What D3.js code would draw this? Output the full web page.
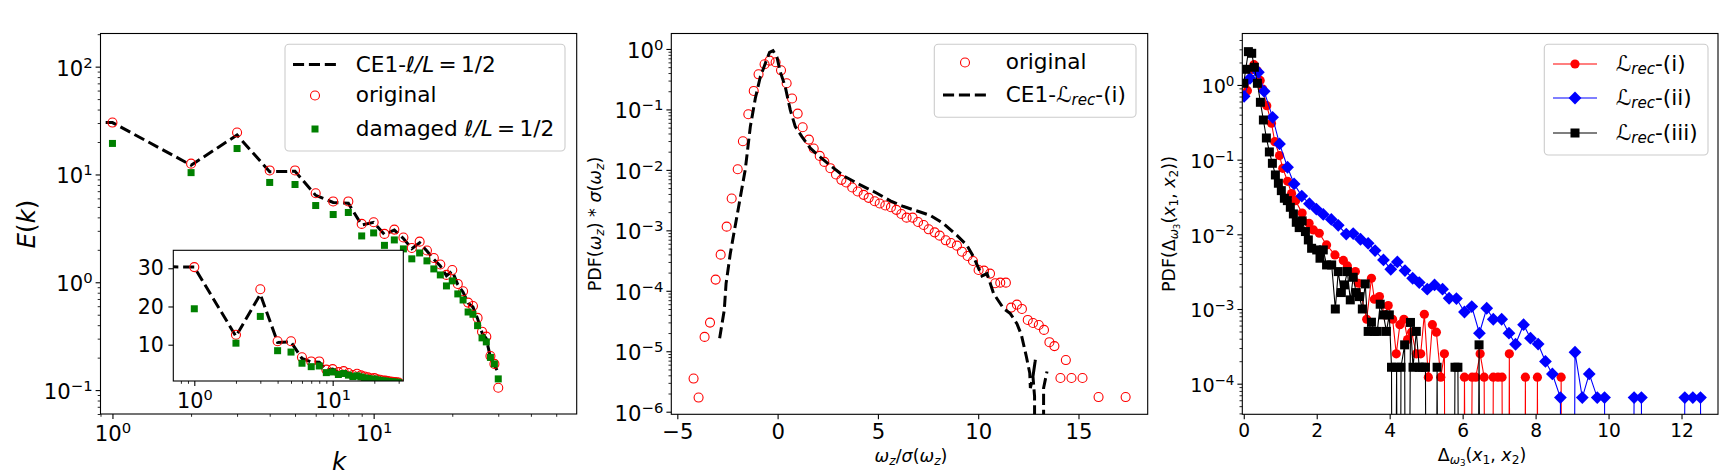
<!DOCTYPE html>
<html><head><meta charset="utf-8">
<script src="https://cdn.jsdelivr.net/npm/d3@7"></script>
<style>
html,body{margin:0;padding:0;background:#fff}
svg{display:block}
text{font-family:"DejaVu Sans",sans-serif;fill:#000}
</style></head><body>
<svg id="c" width="1736" height="476"></svg>
<script>
// ---------- Panel 1: energy spectrum ----------
const spectrumK = [1,2,3,4,5,6,7,8,9,10,11,12,13,14,15,16,17,18,19,20,21,22,23,24,25,26,27,28,29,30];
const spectrumOriginal = [30.3,12.6,24.5,10.9,10.9,6.7,5.62,5.62,3.48,3.6,2.81,3.08,2.6,2.08,2.38,1.97,1.68,1.46,1.17,1.3,0.965,0.826,0.648,0.603,0.467,0.348,0.313,0.207,0.175,0.105];
const spectrumDamaged = [19.4,10.4,17.4,8.43,8.07,5.15,4.25,4.44,2.69,2.87,2.2,2.47,2.04,1.65,1.87,1.58,1.33,1.17,0.925,1.03,0.78,0.685,0.53,0.505,0.396,0.305,0.28,0.201,0.175,0.127];
const ceK = [0.1,1,2,3,4,5,6,7,8,9,10,11,12,13,14,15,16,17,18,19,20,21,22,23,24,25,26,27,28,29,30];
const ceSpectrum = [30.8,30.3,12.2,23.2,10.6,10.7,6.4,5.5,5.4,3.4,3.6,2.78,3.05,2.55,2.05,2.32,1.95,1.63,1.42,1.15,1.27,0.95,0.81,0.64,0.59,0.46,0.34,0.3,0.2,0.17,0.145];
// ---------- Panel 2: PDF of vorticity (value pairs x, log10 PDF) ----------
const pdfOriginalX = [-4.19,-3.94,-3.64,-3.37,-3.09,-2.84,-2.54,-2.29,-1.99,-1.73,-1.46,-1.19,-0.95,-0.65,-0.40,-0.10,0.17,0.45,0.72,1.0,1.25,1.56,1.80,2.10,2.33,2.63,2.91,3.18,3.42,3.72,3.99,4.29,4.54,4.84,5.09,5.37,5.65,5.92,6.17,6.43,6.73,7.0,7.28,7.53,7.83,8.08,8.38,8.64,8.94,9.19,9.47,9.74,10.02,10.29,10.59,10.85,11.1,11.38,11.64,11.93,12.18,12.47,12.73,13.02,13.28,13.55,13.8,14.1,14.37,14.65,15.2,16.0,17.35];
const pdfOriginalLog = [-5.452,-5.766,-4.763,-4.526,-3.815,-3.402,-2.939,-2.474,-1.989,-1.526,-1.08,-0.694,-0.419,-0.253,-0.193,-0.22,-0.353,-0.567,-0.82,-1.069,-1.295,-1.499,-1.647,-1.769,-1.868,-1.972,-2.077,-2.165,-2.209,-2.292,-2.358,-2.413,-2.463,-2.518,-2.556,-2.59,-2.617,-2.661,-2.73,-2.79,-2.79,-2.862,-2.912,-2.983,-3.033,-3.088,-3.165,-3.209,-3.253,-3.353,-3.424,-3.507,-3.656,-3.667,-3.716,-3.876,-3.865,-3.865,-4.278,-4.229,-4.3,-4.482,-4.532,-4.565,-4.647,-4.85,-4.915,-5.443,-5.146,-5.443,-5.443,-5.758,-5.758];
const pdfCeX = [-2.89,-2.66,-2.57,-2.36,-2.03,-1.61,-1.36,-1.11,-0.86,-0.61,-0.40,-0.23,-0.03,0.13,0.38,0.63,0.88,1.21,1.63,2.13,2.63,3.29,4.12,4.95,5.62,6.28,7.11,7.61,8.28,8.94,9.44,9.77,10.19,10.44,10.77,11.27,11.6,11.93,12.15,12.4,12.57,12.6,12.73,12.85,12.73,12.81,12.83,13.23,13.26,13.43];
const pdfCeLog = [-4.785,-4.322,-3.882,-3.386,-2.771,-1.989,-1.284,-0.815,-0.457,-0.237,-0.055,-0.028,-0.138,-0.375,-0.623,-1.008,-1.284,-1.449,-1.642,-1.79,-1.928,-2.099,-2.248,-2.386,-2.512,-2.606,-2.697,-2.752,-2.89,-3.083,-3.248,-3.441,-3.755,-3.716,-4.047,-4.295,-4.377,-4.543,-4.727,-5.086,-5.361,-5.609,-5.416,-5.141,-5.416,-5.748,-300,-300,-5.609,-5.334];
// ---------- Panel 3: PDF of increments (x, log10 PDF; -300 = empty bin) ----------
const recIX = [0.02,0.1,0.19,0.28,0.37,0.45,0.52,0.63,0.76,0.85,0.98,1.07,1.2,1.31,1.42,1.6,1.79,1.91,2.07,2.27,2.5,2.73,2.84,3.06,3.14,3.37,3.5,3.58,3.72,3.86,3.96,4.08,4.18,4.28,4.39,4.49,4.6,4.73,4.85,4.95,5.06,5.17,5.28,5.4,5.5,5.55,6.0,6.05,6.15,6.26,6.36,6.48,6.59,6.65,6.79,6.84,6.97,7.08,7.14,7.23,7.28,7.33,7.67,7.72,7.77,8.0,8.05,8.1,8.65,8.7,8.75];
const recILog = [-0.14,-0.076,0.2,0.272,0.19,0.06,-0.054,-0.277,-0.513,-0.759,-0.946,-1.116,-1.29,-1.455,-1.55,-1.716,-1.852,-1.941,-1.986,-2.142,-2.276,-2.35,-2.423,-2.499,-2.655,-3.137,-2.588,-2.869,-2.834,-3.079,-2.954,-3.137,-3.6,-3.21,-3.137,-3.41,-3.31,-3.6,-3.6,-3.07,-3.913,-3.21,-3.31,-3.913,-3.6,-300,-300,-3.913,-300,-3.913,-3.913,-3.6,-3.913,-300,-300,-3.913,-3.913,-3.913,-300,-300,-3.6,-300,-300,-3.913,-300,-300,-3.913,-300,-300,-3.913,-300];
const recIIX = [0.01,0.17,0.4,0.56,0.79,0.98,1.2,1.38,1.59,1.8,1.99,2.18,2.4,2.59,2.81,3.0,3.2,3.41,3.6,3.83,4.03,4.21,4.42,4.63,4.81,5.03,5.23,5.45,5.63,5.83,6.05,6.25,6.46,6.66,6.84,7.07,7.27,7.45,7.67,7.86,8.07,8.27,8.46,8.68,8.75,9.0,9.08,9.28,9.47,9.69,9.89,9.95,10.6,10.7,10.9,10.97,12.0,12.09,12.31,12.52,12.6];
const recIILog = [-0.152,0.089,0.17,-0.085,-0.433,-0.79,-1.102,-1.325,-1.488,-1.59,-1.662,-1.734,-1.8,-1.88,-1.997,-1.99,-2.066,-2.12,-2.218,-2.343,-2.468,-2.369,-2.486,-2.588,-2.646,-2.735,-2.677,-2.735,-2.856,-2.86,-3.04,-2.968,-3.324,-2.99,-3.137,-3.137,-3.324,-3.472,-3.21,-3.391,-3.47,-3.702,-3.87,-4.186,-300,-300,-3.579,-4.186,-3.869,-4.186,-4.186,-300,-300,-4.186,-4.186,-300,-300,-4.186,-4.186,-4.186,-300];
const recIIIX = [0.0,0.054,0.127,0.218,0.291,0.374,0.456,0.538,0.62,0.702,0.785,0.867,0.949,1.03,1.113,1.195,1.277,1.36,1.44,1.52,1.6,1.69,1.77,1.86,2.0,2.09,2.18,2.27,2.41,2.51,2.59,2.675,2.76,2.84,2.92,3.0,3.08,3.17,3.25,3.33,3.41,3.5,3.58,3.66,3.74,3.83,3.91,3.99,4.05,4.10,4.19,4.26,4.31,4.41,4.47,4.57,4.64,4.73,4.81,4.89,4.98,5.05,5.22,5.30,5.38,5.71,5.79,5.87,5.95,6.36,6.45,6.53];
const recIIILog = [0.022,0.21,0.446,0.424,0.237,0.022,-0.232,-0.469,-0.71,-0.897,-1.049,-1.205,-1.316,-1.415,-1.517,-1.549,-1.638,-1.727,-1.839,-1.91,-1.82,-1.963,-2.075,-2.187,-2.209,-2.32,-2.209,-2.41,-2.41,-3.0,-2.499,-2.78,-2.677,-2.499,-2.878,-2.575,-2.78,-2.834,-3.0,-2.664,-3.3,-3.177,-3.3,-3.3,-2.936,-3.079,-3.3,-3.079,-3.78,-300,-3.78,-300,-3.78,-3.48,-300,-3.18,-3.78,-3.3,-3.78,-3.78,-3.78,-300,-300,-3.78,-300,-300,-3.78,-3.78,-300,-300,-3.48,-300];
// ---------- Tick labels ----------
const p1XTicks=[1,10], p1YTicks=[100,10,1,0.1], insetYTicks=[10,20,30];
const p2XTicks=[-5,0,5,10,15], p2YTicks=[1,1e-1,1e-2,1e-3,1e-4,1e-5,1e-6];
const p3XTicks=[0,2,4,6,8,10,12], p3YTicks=[1,1e-1,1e-2,1e-3,1e-4];

const svg=d3.select('#c');
const defs=svg.append('defs');
let clipN=0;
const FS=21.6, TICK=21.2, MARK='#ff0000';

function minorLog(lo,hi){const o=[];for(let e=Math.floor(Math.log10(lo));e<=Math.ceil(Math.log10(hi));e++)for(let m=2;m<=9;m++){const v=m*Math.pow(10,e);if(v>=lo&&v<=hi)o.push(v);}return o;}
function rich(t,parts){
  let cur=0;
  const st={n:[0,1,'normal'],i:[0,1,'italic'],s:[0.16,0.7,'normal'],si:[0.16,0.7,'italic'],ss:[0.3,0.5,'normal'],u:[-0.38,0.7,'normal']};
  const base=parseFloat(t.attr('font-size'));
  parts.forEach(([txt,k])=>{const [off,sc,sty]=st[k||'n'];
    const dy=(off-cur)*base;cur=off;
    t.append('tspan').attr('dy',dy).attr('font-size',base*sc).attr('font-style',sty).text(txt);});
}
function powLabel(sel,fs){sel.each(function(d){const t=d3.select(this);const e=Math.round(Math.log10(d));t.text(null).attr('font-size',fs);
  rich(t,[['10','n'],[(e<0?'\u2212':'')+Math.abs(e),'u']]);});}

function frame(g,b,x,y,o){
  const fx=o.fsx||o.fs;
  const ax=d3.axisBottom(x).tickValues(o.xt).tickSize(4.9).tickPadding(5).tickFormat(o.xlog?(d=>d):(d=>String(d).replace('-','\u2212')));
  const ay=d3.axisLeft(y).tickValues(o.yt).tickSize(4.9).tickPadding(o.ylog?3:4.5).tickFormat(d=>d);
  const gx=g.append('g').attr('transform',`translate(0,${b.b})`).call(ax);
  const gy=g.append('g').attr('transform',`translate(${b.l},0)`).call(ay);
  [gx,gy].forEach(a=>{a.attr('font-family',null).attr('font-size',null);a.select('.domain').remove();a.selectAll('line').attr('stroke','#000').attr('stroke-width',1.1);});
  gx.selectAll('text').attr('font-size',fx).attr('fill','#000');
  gy.selectAll('text').attr('font-size',o.fs).attr('fill','#000');
  if(o.xlog){gx.selectAll('text').attr('dy',null).attr('y',27).call(powLabel,fx);}
  if(o.ylog){gy.selectAll('text').attr('dy',null).attr('y',o.fs*0.4).call(powLabel,o.fs);}
  if(o.xm){const m=g.append('g').attr('transform',`translate(0,${b.b})`).call(d3.axisBottom(x).tickValues(o.xm).tickSize(2.8).tickFormat(''));m.select('.domain').remove();m.selectAll('line').attr('stroke','#000').attr('stroke-width',0.85);}
  if(o.ym){const m=g.append('g').attr('transform',`translate(${b.l},0)`).call(d3.axisLeft(y).tickValues(o.ym).tickSize(2.8).tickFormat(''));m.select('.domain').remove();m.selectAll('line').attr('stroke','#000').attr('stroke-width',0.85);}
}
function box(g,b){g.append('rect').attr('x',b.l).attr('y',b.t).attr('width',b.r-b.l).attr('height',b.b-b.t).attr('fill','none').attr('stroke','#000').attr('stroke-width',1.1);}
function clip(b){const id='cp'+(clipN++);defs.append('clipPath').attr('id',id).append('rect').attr('x',b.l).attr('y',b.t).attr('width',b.r-b.l).attr('height',b.b-b.t);return `url(#${id})`;}

function circles(g,xs,ys,x,y){g.selectAll(null).data(xs.map((v,i)=>[v,ys[i]])).join('circle').attr('cx',d=>x(d[0])).attr('cy',d=>y(d[1])).attr('r',4.5).attr('fill','none').attr('stroke',MARK).attr('stroke-width',1.1);}
function squares(g,xs,ys,x,y,s,col){g.selectAll(null).data(xs.map((v,i)=>[v,ys[i]])).join('rect').attr('x',d=>x(d[0])-s/2).attr('y',d=>y(d[1])-s/2).attr('width',s).attr('height',s).attr('fill',col);}
function dashed(g,xs,ys,x,y){g.append('path').attr('d',d3.line().x(d=>x(d[0])).y(d=>y(d[1]))(xs.map((v,i)=>[v,ys[i]]))).attr('fill','none').attr('stroke','#000').attr('stroke-width',3).attr('stroke-dasharray','11.1,4.8');}
function legendBox(g,l,t,r,b){g.append('rect').attr('x',l).attr('y',t).attr('width',r-l).attr('height',b-t).attr('rx',4).attr('fill','#fff').attr('fill-opacity',0.8).attr('stroke','#ccc').attr('stroke-width',1.1);}
function legText(g,x,y,parts,fs){const t=g.append('text').attr('x',x).attr('y',y).attr('font-size',fs||FS);rich(t,parts);return t;}
const pow10=v=>Math.pow(10,v);

// ===== Panel 1 =====
{
 const b={l:100.5,r:576.7,t:33.5,b:414};
 const g=svg.append('g');
 const x=d3.scaleLog().domain([0.9,59.9]).range([b.l,b.r]);
 const y=d3.scaleLog().domain([0.06,203]).range([b.b,b.t]);
 frame(g,b,x,y,{xt:p1XTicks,yt:p1YTicks,xlog:1,ylog:1,fs:TICK,xm:minorLog(0.9,59.9),ym:minorLog(0.06,203)});
 const p=g.append('g').attr('clip-path',clip(b));
 dashed(p,ceK,ceSpectrum,x,y);
 circles(p,spectrumK,spectrumOriginal,x,y);
 squares(p,spectrumK,spectrumDamaged,x,y,7,'#008000');
 box(g,b);
 legendBox(g,285,44.3,565,151);
 g.append('line').attr('x1',293).attr('x2',337).attr('y1',64.5).attr('y2',64.5).attr('stroke','#000').attr('stroke-width',3).attr('stroke-dasharray','11.1,4.8');
 g.append('circle').attr('cx',315).attr('cy',95.5).attr('r',4.5).attr('fill','none').attr('stroke',MARK).attr('stroke-width',1.1);
 g.append('rect').attr('x',311.5).attr('y',125.5).attr('width',7).attr('height',7).attr('fill','#008000');
 legText(g,355.7,71.7,[['CE1-'],['\u2113/L','i'],['\u2009=\u20091/2']]);
 legText(g,355.7,101.7,[['original']]);
 legText(g,355.7,135.7,[['damaged '],['\u2113/L','i'],['\u2009=\u20091/2']]);
 const yl=g.append('text').attr('font-size',24.5).attr('text-anchor','middle').attr('transform','translate(35,224) rotate(-90)');rich(yl,[['E','i'],['('],['k','i'],[')']]);
 const xl=g.append('text').attr('font-size',24.5).attr('text-anchor','middle').attr('x',339).attr('y',470);rich(xl,[['k','i']]);
 // inset
 const bi={l:173.3,r:403.3,t:250.3,b:381};
 const gi=g.append('g');
 gi.append('rect').attr('x',bi.l).attr('y',bi.t).attr('width',bi.r-bi.l).attr('height',bi.b-bi.t).attr('fill','#fff');
 const xi=d3.scaleLog().domain([0.705,32.4]).range([bi.l,bi.r]);
 const yi=d3.scaleLinear().domain([0.5,34.7]).range([bi.b,bi.t]);
 frame(gi,bi,xi,yi,{xt:p1XTicks,yt:insetYTicks,xlog:1,fs:20.5,fsx:20.8,xm:minorLog(0.705,32.4)});
 const pi=gi.append('g').attr('clip-path',clip(bi));
 dashed(pi,ceK,ceSpectrum,xi,yi);
 circles(pi,spectrumK,spectrumOriginal,xi,yi);
 squares(pi,spectrumK,spectrumDamaged,xi,yi,7,'#008000');
 box(gi,bi);
}
// ===== Panel 2 =====
{
 const b={l:671.3,r:1147.7,t:33.5,b:414.3};
 const g=svg.append('g');
 const x=d3.scaleLinear().domain([-5.3,18.45]).range([b.l,b.r]);
 const y=d3.scaleLog().domain([pow10(-6.043),pow10(0.256)]).range([b.b,b.t]);
 frame(g,b,x,y,{xt:p2XTicks,yt:p2YTicks,ylog:1,fs:TICK,ym:minorLog(pow10(-6.043),pow10(0.256))});
 const p=g.append('g').attr('clip-path',clip(b));
 circles(p,pdfOriginalX,pdfOriginalLog.map(pow10),x,y);
 dashed(p,pdfCeX,pdfCeLog.map(pow10),x,y);
 box(g,b);
 legendBox(g,934.3,44.3,1136,117.3);
 g.append('circle').attr('cx',965).attr('cy',62.5).attr('r',4.5).attr('fill','none').attr('stroke',MARK).attr('stroke-width',1.1);
 g.append('line').attr('x1',943).attr('x2',987).attr('y1',95).attr('y2',95).attr('stroke','#000').attr('stroke-width',3).attr('stroke-dasharray','11.1,4.8');
 legText(g,1005.7,69,[['original']]);
 legText(g,1005.7,101.7,[['CE1-'],['\u2112','n'],['rec','si'],['-(i)','n']]);
 const yl=g.append('text').attr('font-size',17.5).attr('text-anchor','middle').attr('transform','translate(601,224) rotate(-90)');
 rich(yl,[['PDF('],['\u03c9','i'],['z','si'],[') * '],['\u03c3','i'],['('],['\u03c9','i'],['z','si'],[')']]);
 const xl=g.append('text').attr('font-size',17.5).attr('text-anchor','middle').attr('x',911).attr('y',462);
 rich(xl,[['\u03c9','i'],['z','si'],['/'],['\u03c3','i'],['('],['\u03c9','i'],['z','si'],[')']]);
}
// ===== Panel 3 =====
{
 const b={l:1242.3,r:1718,t:33.5,b:414.3};
 const g=svg.append('g');
 const x=d3.scaleLinear().domain([-0.04,13]).range([b.l,b.r]);
 const y=d3.scaleLog().domain([pow10(-4.41),pow10(0.689)]).range([b.b,b.t]);
 frame(g,b,x,y,{xt:p3XTicks,yt:p3YTicks,ylog:1,fs:19.2,fsx:18.6,ym:minorLog(pow10(-4.41),pow10(0.689))});
 const p=g.append('g').attr('clip-path',clip(b));
 const L=d3.line().x(d=>x(d[0])).y(d=>y(d[1]));
 const series=[[recIX,recILog,'#ff0000','c'],[recIIX,recIILog,'#0000ff','d'],[recIIIX,recIIILog,'#000000','s']];
 function marker(sel,kind,col){
  if(kind==='c')sel.append('circle').attr('r',4.6).attr('fill',col);
  if(kind==='s')sel.append('rect').attr('x',-4.5).attr('y',-4.5).attr('width',9).attr('height',9).attr('fill',col);
  if(kind==='d')sel.append('path').attr('d','M0,-6.4L6.4,0L0,6.4L-6.4,0Z').attr('fill',col);
 }
 series.forEach(([xs,ls,col,kind])=>{
  const pts=xs.map((v,i)=>[v,pow10(ls[i])]);
  p.append('path').attr('d',L(pts.map(d=>[d[0],Math.max(d[1],1e-12)]))).attr('fill','none').attr('stroke',col).attr('stroke-width',1.1);
  pts.filter(d=>d[1]>1e-12).forEach(d=>{marker(p.append('g').attr('transform',`translate(${x(d[0])},${y(d[1])})`),kind,col);});
 });
 box(g,b);
 legendBox(g,1544.3,44.3,1708,155);
 [[series[0],64],[series[1],98],[series[2],133]].forEach(([s,yy])=>{
  g.append('line').attr('x1',1553).attr('x2',1597).attr('y1',yy).attr('y2',yy).attr('stroke',s[2]).attr('stroke-width',1.1);
  marker(g.append('g').attr('transform',`translate(1575,${yy})`),s[3],s[2]);
 });
 legText(g,1615.7,71,[['\u2112','n'],['rec','si'],['-(i)','n']]);
 legText(g,1615.7,105,[['\u2112','n'],['rec','si'],['-(ii)','n']]);
 legText(g,1615.7,140,[['\u2112','n'],['rec','si'],['-(iii)','n']]);
 const yl=g.append('text').attr('font-size',17.4).attr('text-anchor','middle').attr('transform','translate(1175,224) rotate(-90)');
 rich(yl,[['PDF('],['\u0394','n'],['\u03c9','si'],['3','ss'],['(','n'],['x','i'],['1','s'],[', ','n'],['x','i'],['2','s'],['))','n']]);
 const xl=g.append('text').attr('font-size',17.4).attr('text-anchor','middle').attr('x',1482).attr('y',461);
 rich(xl,[['\u0394','n'],['\u03c9','si'],['3','ss'],['(','n'],['x','i'],['1','s'],[', ','n'],['x','i'],['2','s'],[')','n']]);
}
</script>
</body></html>
